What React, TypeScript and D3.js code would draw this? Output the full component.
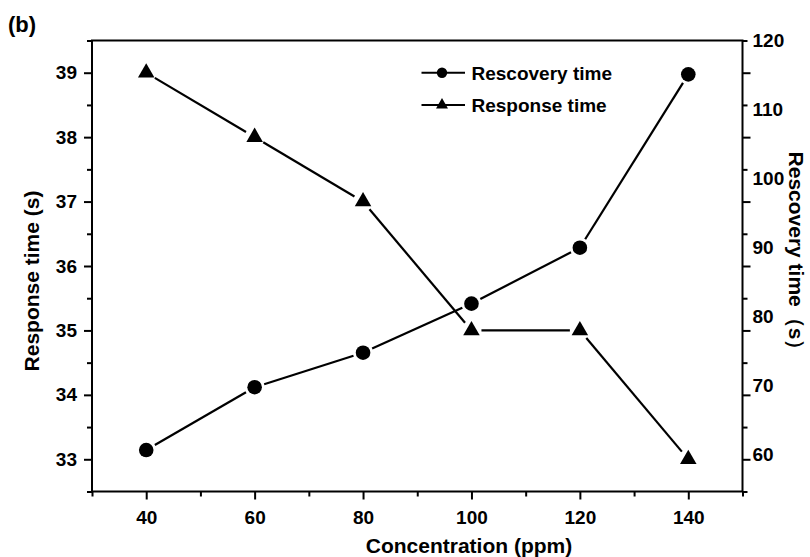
import React, { useEffect, useRef } from 'react'
import { select, scaleLinear, axisBottom, axisLeft, axisRight, range, symbol, symbolTriangle } from 'd3'

const concentration = [40, 60, 80, 100, 120, 140]
const responseTime = [39, 38, 37, 35, 35, 33]
const recoveryTime = [60.7, 69.8, 74.8, 81.9, 90, 115.1]
const xTickLabels = [40, 60, 80, 100, 120, 140]
const leftTickLabels = [33, 34, 35, 36, 37, 38, 39]
const rightTickLabels = [60, 70, 80, 90, 100, 110, 120]

const width = 810
const height = 557
const margin = { top: 40.5, bottom: 65.5, left: 92, right: 67.5 }
const font = '"Liberation Sans", Arial, sans-serif'

function App() {
  const svgRef = useRef<SVGSVGElement>(null)

  useEffect(() => {
    const svg = select(svgRef.current)
    svg.selectAll('*').remove()

    const x0 = margin.left
    const x1 = width - margin.right
    const y0 = height - margin.bottom
    const y1 = margin.top

    const xScale = scaleLinear().domain([30, 150]).range([x0, x1])
    const yLeft = scaleLinear().domain([32.5, 39.5]).range([y0, y1])
    const yRight = scaleLinear().domain([54.7, 120]).range([y0, y1])

    const styleAxis = (g: any, size = 19) => {
      g.select('.domain').remove()
      g.selectAll('line').attr('stroke', '#000').attr('stroke-width', 2)
      g.selectAll('text')
        .attr('fill', '#000')
        .style('font-family', font)
        .style('font-size', size + 'px')
        .style('font-weight', 'bold')
    }

    // bottom axis
    svg.append('g').attr('transform', `translate(0,${y0})`)
      .call(axisBottom(xScale).tickValues([30, 50, 70, 90, 110, 130, 150]).tickSize(5).tickFormat(() => ''))
      .call(styleAxis)
    svg.append('g').attr('transform', `translate(0,${y0})`)
      .call(axisBottom(xScale).tickValues(xTickLabels).tickSize(8).tickPadding(11).tickFormat(d => String(d)))
      .call(styleAxis)

    // left axis
    svg.append('g').attr('transform', `translate(${x0},0)`)
      .call(axisLeft(yLeft).tickValues(range(32.5, 39.6, 1)).tickSize(5).tickFormat(() => ''))
      .call(styleAxis)
    svg.append('g').attr('transform', `translate(${x0},0)`)
      .call(axisLeft(yLeft).tickValues(leftTickLabels).tickSize(8).tickPadding(7).tickFormat(d => String(d)))
      .call(styleAxis)

    // right axis: ticks follow the left grid, labels follow the recovery scale
    svg.append('g').attr('transform', `translate(${x1},0)`)
      .call(axisRight(yLeft).tickValues(range(32.5, 39.6, 1)).tickSize(5).tickFormat(() => ''))
      .call(styleAxis)
    svg.append('g').attr('transform', `translate(${x1},0)`)
      .call(axisRight(yLeft).tickValues(leftTickLabels).tickSize(8).tickFormat(() => ''))
      .call(styleAxis)
    svg.append('g').attr('transform', `translate(${x1},0)`)
      .call(axisRight(yRight).tickValues(rightTickLabels).tickSize(0).tickPadding(10).tickFormat(d => String(d)))
      .call(styleAxis)

    // frame
    svg.append('rect')
      .attr('x', x0).attr('y', y1)
      .attr('width', x1 - x0).attr('height', y0 - y1)
      .attr('fill', 'none').attr('stroke', '#000').attr('stroke-width', 2)

    // lines with gaps around the markers
    const gap = 10
    const drawSeries = (ys: number[], yScale: any) => {
      const pts = concentration.map((c, i) => [xScale(c), yScale(ys[i])])
      for (let i = 0; i < pts.length - 1; i++) {
        const [ax, ay] = pts[i]
        const [bx, by] = pts[i + 1]
        const len = Math.hypot(bx - ax, by - ay)
        const ux = (bx - ax) / len
        const uy = (by - ay) / len
        svg.append('line')
          .attr('x1', ax + ux * gap).attr('y1', ay + uy * gap)
          .attr('x2', bx - ux * gap).attr('y2', by - uy * gap)
          .attr('stroke', '#000').attr('stroke-width', 2.2)
      }
      return pts
    }

    const recPts = drawSeries(recoveryTime, yRight)
    const resPts = drawSeries(responseTime, yLeft)

    svg.append('g').selectAll('circle')
      .data(recPts)
      .join('circle')
      .attr('cx', d => d[0]).attr('cy', d => d[1])
      .attr('r', 7.3).attr('fill', '#000')

    const tri = symbol().type(symbolTriangle).size(118)
    svg.append('g').selectAll('path')
      .data(resPts)
      .join('path')
      .attr('d', tri as any)
      .attr('transform', d => `translate(${d[0]},${d[1]})`)
      .attr('fill', '#000')

    // legend
    const legend = [
      { label: 'Rescovery time', y: 72.7, marker: 'circle' },
      { label: 'Response time', y: 105, marker: 'triangle' },
    ]
    legend.forEach(l => {
      svg.append('line')
        .attr('x1', 421.5).attr('x2', 465).attr('y1', l.y).attr('y2', l.y)
        .attr('stroke', '#000').attr('stroke-width', 2)
      if (l.marker === 'circle') {
        svg.append('circle').attr('cx', 442).attr('cy', l.y).attr('r', 5.2).attr('fill', '#000')
      } else {
        svg.append('path')
          .attr('d', symbol().type(symbolTriangle).size(62)() as string)
          .attr('transform', `translate(442,${l.y})`)
          .attr('fill', '#000')
      }
      svg.append('text')
        .attr('x', 471.5).attr('y', l.y).attr('dy', '0.36em')
        .style('font-family', font).style('font-size', '19px').style('font-weight', 'bold')
        .text(l.label)
    })

    // titles
    svg.append('text')
      .attr('x', 469).attr('y', 553)
      .attr('text-anchor', 'middle')
      .style('font-family', font).style('font-size', '21px').style('font-weight', 'bold')
      .text('Concentration (ppm)')

    svg.append('text')
      .attr('transform', 'translate(39,281) rotate(-90)')
      .attr('text-anchor', 'middle')
      .style('font-family', font).style('font-size', '21px').style('font-weight', 'bold')
      .text('Response time (s)')

    svg.append('text')
      .attr('transform', 'translate(789,256) rotate(90)')
      .attr('text-anchor', 'middle')
      .style('font-family', font).style('font-size', '21px').style('font-weight', 'bold')
      .text('Rescovery time（s）')

    svg.append('text')
      .attr('x', 8).attr('y', 32)
      .style('font-family', font).style('font-size', '22px').style('font-weight', 'bold')
      .text('(b)')
  }, [])

  return (
    <svg
      ref={svgRef}
      width={width}
      height={height}
      style={{ position: 'absolute', left: 0, top: 0, background: '#fff' }}
    />
  )
}

export default App
